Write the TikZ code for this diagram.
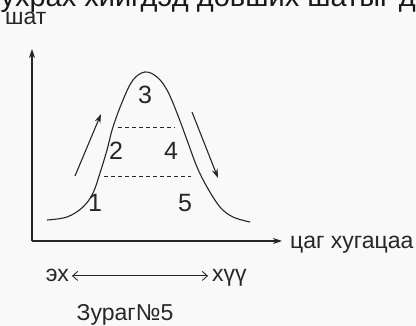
\documentclass[tikz,border=0pt]{standalone}
\usepackage{fontspec}
\setmainfont{Liberation Sans}
\usetikzlibrary{arrows.meta}
\begin{document}
\begin{tikzpicture}[x=1pt,y=-1pt,
  lbl/.style={inner sep=0pt, font=\fontsize{23}{27}\selectfont, text=black!85},
  num/.style={inner sep=0pt, font=\fontsize{25}{29}\selectfont, text=black!85},
  ln/.style={line width=1.1pt, draw=black!85},
  dsh/.style={line width=1pt, draw=black!85, dash pattern=on 4pt off 3pt},
  tip/.style={-{Stealth[length=9pt,width=6pt]}},
  barb/.style={{Straight Barb[length=5pt,width=9pt]}-{Straight Barb[length=5pt,width=9pt]}}
]
\fill[gray!5] (0,0) rectangle (416,326);
\useasboundingbox (0,0) rectangle (416,326);
\begin{scope}
\clip (0,0) rectangle (416,326);
\node[inner sep=0pt, font=\fontsize{29}{33}\selectfont, text=black!90, anchor=base east] (top) at (416,7) {ухрах хийгдэд довших шатыг д};
\end{scope}
% axes
\coordinate (O) at (32,241);
\coordinate (ytop) at (32,49);
\coordinate (xend) at (282,241);
\draw[ln, tip] (O) -- (ytop);
\draw[ln, tip] (O) -- (xend);
\node[lbl, anchor=base west] (shat) at (5,25) {шат};
\node[lbl, anchor=base west] (time) at (290,249) {цаг хугацаа};
% curve
\draw[ln] plot[smooth, tension=0.6] coordinates {(47,220) (67,217) (83,207) (93,193) (100,173) (107,150) (113,127) (123,100) (133,80) (145,72) (157,77) (167,90) (177,113) (187,140) (197,167) (207,187) (220,207) (233,217) (250,222)};
% dashed lines
\coordinate (d1a) at (118,128); \coordinate (d1b) at (175,128);
\coordinate (d2a) at (104,177); \coordinate (d2b) at (191,177);
\draw[dsh] (d1a) -- (d1b);
\draw[dsh] (d2a) -- (d2b);
% numbers
\node[num, anchor=base] (n3) at (145,104) {3};
\node[num, anchor=base] (n2) at (116,160) {2};
\node[num, anchor=base] (n4) at (171,160) {4};
\node[num, anchor=base] (n1) at (95,212) {1};
\node[num, anchor=base] (n5) at (185,212) {5};
% trend arrows
\coordinate (ua) at (75,176); \coordinate (ub) at (101,114);
\coordinate (da) at (192,112); \coordinate (db) at (218,178);
\draw[ln, tip] (ua) -- (ub);
\draw[ln, tip] (da) -- (db);
% bottom
\node[lbl, anchor=base east] (eh) at (69,282) {эх};
\node[lbl, anchor=base west] (huu) at (212,282) {хүү};
\draw[line width=0.9pt, draw=black!85, barb, shorten <=3pt, shorten >=4pt] (eh.east) -- (eh.east -| huu.west);
\node[lbl, anchor=base] (cap) at (125,321) {Зураг№5};
\end{tikzpicture}
\end{document}
